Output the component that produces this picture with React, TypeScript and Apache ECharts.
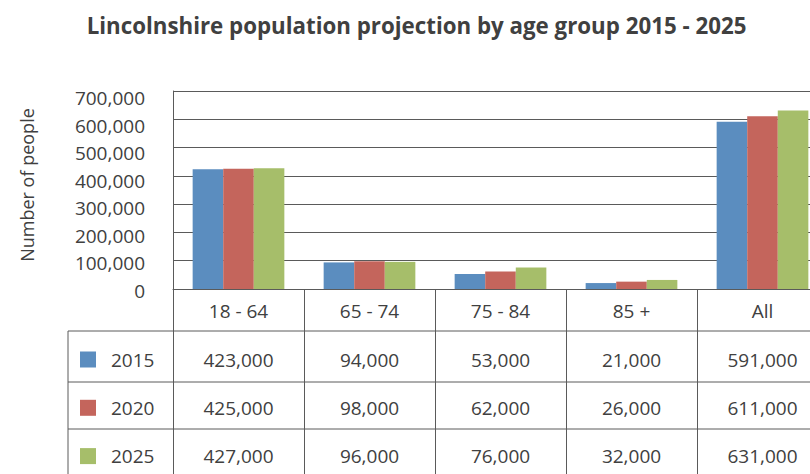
import React, { useEffect, useRef } from "react";
import * as echarts from "echarts";

const title = "Lincolnshire population projection by age group 2015 - 2025";
const yAxisName = "Number of people";
const categories = ["18 - 64", "65 - 74", "75 - 84", "85 +", "All"];
const years = ["2015", "2020", "2025"];
const values2015 = [423000, 94000, 53000, 21000, 591000];
const values2020 = [425000, 98000, 62000, 26000, 611000];
const values2025 = [427000, 96000, 76000, 32000, 631000];
const yMin = 0;
const yMax = 700000;
const yInterval = 100000;

const seriesValues = [values2015, values2020, values2025];
const colors = ["#5B8DBF", "#C4655C", "#A6BE6A"];

const FONT = "'Open Sans', 'Noto Sans', sans-serif";
const TEXT = "#404040";
const LINE = "#5a5a5a";

const fmt = (v: number) => v.toLocaleString("en-US");

export default function App() {
  const ref = useRef<HTMLDivElement>(null);
  useEffect(() => {
    document.body.style.margin = "0";
    document.body.style.overflow = "hidden";
    document.documentElement.style.overflow = "hidden";
    if (!ref.current) return;
    const chart = echarts.init(ref.current, undefined, { renderer: "svg" });

    const gLeft = 173;
    const gTop = 91;
    const gH = 198;
    const gW = 655;
    const rowOffsets = [71, 119, 166.5];

    const tableXAxes = seriesValues.map((vals, i) => ({
      type: "category",
      gridIndex: 0,
      position: "bottom",
      offset: rowOffsets[i],
      data: vals.map(fmt),
      axisLine: { show: false },
      axisTick: { show: false },
      axisLabel: {
        margin: 0,
        verticalAlign: "middle",
        color: TEXT,
        fontFamily: FONT,
        fontSize: 19,
        interval: 0,
      },
    }));

    chart.setOption({
      animation: false,
      textStyle: { fontFamily: FONT },
      grid: [
        { left: gLeft, top: gTop, width: gW, height: gH },
        { left: gLeft, top: 98, width: gW, height: 193 },
      ],
      legend: {
        orient: "vertical",
        left: 80,
        top: 350,
        padding: 0,
        itemWidth: 16,
        itemHeight: 16,
        itemGap: 29.3,
        icon: "rect",
        data: years,
        textStyle: {
          color: TEXT,
          fontFamily: FONT,
          fontSize: 19,
          padding: [0, 0, 0, 10],
        },
      },
      xAxis: [
        {
          type: "category",
          gridIndex: 0,
          data: categories,
          axisLine: { show: true, lineStyle: { color: LINE, width: 1 } },
          axisTick: {
            show: true,
            alignWithLabel: false,
            length: 190,
            lineStyle: { color: LINE, width: 1 },
          },
          axisLabel: {
            margin: 22,
            verticalAlign: "middle",
            color: TEXT,
            fontFamily: FONT,
            fontSize: 19,
            interval: 0,
          },
        },
        ...tableXAxes,
        {
          type: "category",
          gridIndex: 1,
          data: categories,
          show: false,
        },
      ],
      yAxis: [
        {
          type: "value",
          gridIndex: 0,
          min: yMin,
          max: yMax,
          interval: yInterval,
          axisLine: { show: true, lineStyle: { color: LINE, width: 1 } },
          axisTick: { show: false },
          axisLabel: { show: false },
          splitLine: { show: true, lineStyle: { color: LINE, width: 1 } },
        },
        {
          type: "value",
          gridIndex: 1,
          min: yMin,
          max: yMax,
          interval: yInterval,
          axisLine: { show: false },
          axisTick: { show: false },
          splitLine: { show: false },
          axisLabel: {
            margin: 28,
            color: TEXT,
            fontFamily: FONT,
            fontSize: 19,
            formatter: (v: number) => fmt(v),
          },
        },
      ],
      series: years.map((y, i) => ({
        name: y,
        type: "bar",
        xAxisIndex: 0,
        yAxisIndex: 0,
        data: seriesValues[i],
        barGap: "0%",
        barCategoryGap: "30%",
        itemStyle: { color: colors[i] },
      })),
      graphic: [
        {
          type: "text",
          x: 416.5,
          y: 25,
          style: {
            text: title,
            align: "center",
            verticalAlign: "middle",
            fill: TEXT,
            fontFamily: FONT,
            fontWeight: "bold",
            fontSize: 22.3,
          },
        },
        {
          type: "text",
          x: 27,
          y: 185,
          rotation: Math.PI / 2,
          style: {
            text: yAxisName,
            align: "center",
            verticalAlign: "middle",
            fill: TEXT,
            fontFamily: FONT,
            fontSize: 18,
          },
        },
        ...[331, 382, 429].map((y) => ({
          type: "line",
          shape: { x1: 68, y1: y, x2: 840, y2: y },
          style: { stroke: LINE, lineWidth: 1 },
        })),
        {
          type: "line",
          shape: { x1: 68, y1: 331, x2: 68, y2: 480 },
          style: { stroke: LINE, lineWidth: 1 },
        },
      ],
    });
    return () => chart.dispose();
  }, []);
  return <div ref={ref} style={{ width: 840, height: 474 }} />;
}
